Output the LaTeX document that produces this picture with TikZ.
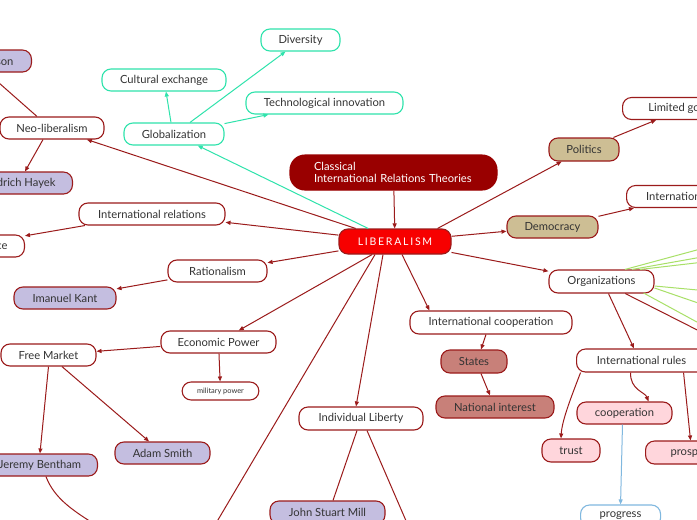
\documentclass[tikz,border=0pt]{standalone}
\usepackage{fontspec}
\setmainfont{Lato}
\usetikzlibrary{arrows.meta,positioning}
\definecolor{wine}{HTML}{9B1B1B}
\definecolor{deepred}{HTML}{990000}
\definecolor{brightred}{HTML}{F70000}
\definecolor{sand}{HTML}{CDBE94}
\definecolor{lilac}{HTML}{C4BEE0}
\definecolor{rosy}{HTML}{C88079}
\definecolor{blush}{HTML}{FFD6DC}
\definecolor{aqua}{HTML}{2FE3AC}
\definecolor{leaf}{HTML}{A8E067}
\definecolor{sky}{HTML}{80B8DF}
\definecolor{ink}{HTML}{333333}

\tikzset{
  box/.style={draw=wine,line width=1.1pt,rounded corners=9pt,fill=white,text=ink,
    font=\fontsize{11.2}{13}\selectfont,minimum height=22pt,inner xsep=15pt,inner ysep=2pt},
  person/.style={box,fill=lilac},
  arr/.style={wine,line width=1pt,-{Triangle[length=5pt,width=4pt]}},
  line/.style={wine,line width=1pt},
  glink/.style={aqua,line width=1pt,-{Triangle[length=5pt,width=4pt]}},
}

\begin{document}
\begin{tikzpicture}[x=1pt,y=-1pt]
  \clip (0,0) rectangle (697,520);
  \fill[white] (0,0) rectangle (697,520);

  % centre
  \node[box,fill=brightred,text=white,minimum width=112pt,minimum height=25pt,
    font=\fontsize{10.5}{12}\selectfont] (lib) at (395,241.5) {L\,I\,B\,E\,R\,A\,L\,I\,S\,M};
  \node[box,fill=deepred,draw=deepred,text=white,rounded corners=15pt,minimum width=207pt,
    minimum height=35pt,text width=159pt,align=left,inner xsep=0pt,
    font=\fontsize{11.2}{12.5}\selectfont] (classic) at (393.5,172.5)
    {Classical\\International Relations Theories};

  % right branch
  \node[box,fill=sand,minimum width=70pt,minimum height=23pt] (pol) at (584,149.5) {Politics};
  \node[box,anchor=west,minimum width=150pt,inner xsep=18pt] (limgov) at (622,108.5) {Limited government};
  \node[box,fill=sand,minimum width=91pt] (demo) at (552.5,227) {Democracy};
  \node[box,anchor=west,minimum width=160pt,inner xsep=18pt] (intinst) at (626,196.5) {International institutions};
  \node[box,minimum width=105pt,minimum height=23pt] (org) at (601.5,281.5) {Organizations};
  \node[box,anchor=west,minimum width=130pt,minimum height=23pt] (rules) at (576,360.5) {International rules};
  \node[box,fill=blush,minimum width=95pt] (coop) at (624.5,413) {cooperation};
  \node[box,fill=blush,minimum width=58pt,minimum height=23pt] (trust) at (571,450.5) {trust};
  \node[box,fill=blush,anchor=west,minimum width=100pt,minimum height=23pt] (prosp) at (645,452.5) {prosperity};
  \node[box,draw=sky,anchor=west,minimum width=80pt] (progress) at (580,516) {progress};

  % lower branch
  \node[box,minimum width=162pt,minimum height=23pt] (intcoop) at (491,322.5) {International cooperation};
  \node[box,fill=rosy,minimum width=66pt,minimum height=23pt] (states) at (474,361.5) {States};
  \node[box,fill=rosy,minimum width=118pt] (natint) at (495,407) {National interest};
  \node[box,minimum width=124pt,minimum height=23pt] (indlib) at (361,418.5) {Individual Liberty};
  \node[person,minimum width=115pt,minimum height=23pt] (mill) at (327.5,512.5) {John Stuart Mill};

  % left branch
  \node[box,minimum width=115pt] (econ) at (218.5,342) {Economic Power};
  \node[box,minimum width=75pt,minimum height=18pt,font=\fontsize{7.4}{8}\selectfont] (mil) at (220.5,391) {military power};
  \node[box,minimum width=95pt] (free) at (48.5,355) {Free Market};
  \node[person,minimum width=95pt] (smith) at (162.5,453) {Adam Smith};
  \node[person,anchor=east,minimum width=115pt] (bentham) at (98,465) {Jeremy Bentham};
  \node[box,minimum width=99pt] (rat) at (217.5,271) {Rationalism};
  \node[person,minimum width=102pt] (kant) at (65,298) {Imanuel Kant};
  \node[box,minimum width=146pt] (intrel) at (152,214) {International relations};
  \node[box,anchor=east,inner xsep=17pt] (peace) at (25,246) {Interdependence};
  \node[box,minimum width=104pt] (neo) at (52,128) {Neo-liberalism};
  \node[person,anchor=east,inner xsep=17pt] (hayek) at (73,183) {Friedrich Hayek};
  \node[person,anchor=east,inner xsep=18pt] (wilson) at (32,61) {Woodrow Wilson};

  % globalization
  \node[box,draw=aqua,minimum width=100pt] (glob) at (174,134) {Globalization};
  \node[box,draw=aqua,minimum width=124pt] (cult) at (164,80) {Cultural exchange};
  \node[box,draw=aqua,minimum width=79pt] (div) at (300.5,40) {Diversity};
  \node[box,draw=aqua,minimum width=157pt] (tech) at (324.5,103) {Technological innovation};

  % loose ends
  \coordinate (libdown) at (212,530);
  \coordinate (orgout) at (720,341.5);
  \coordinate (libout) at (410,530);
  \coordinate (benout) at (104,530);
  \coordinate (neoout) at (-10,75);

  % links from the centre
  \draw[arr] (classic) -- (lib);
  \draw[arr] ([shift={(-14,0)}]lib.north east) -- (pol);
  \draw[arr] (lib) -- (demo);
  \draw[arr] (lib) -- (org);
  \draw[arr] ([shift={(7,0)}]lib.south) -- ([shift={(20,0)}]intcoop.north west);
  \draw[arr] ([shift={(-12,0)}]lib.south) -- ([shift={(-5,0)}]indlib.north);
  \draw[arr] (lib) -- (econ);
  \draw[line] ([shift={(-20,0)}]lib.south) -- (libdown);
  \draw[arr] (lib) -- (rat);
  \draw[arr] (lib) -- (intrel);
  \draw[arr] (lib) -- (neo);
  \draw[glink] (lib) -- (glob);

  % right side
  \draw[arr] (pol) -- ([shift={(34,0)}]limgov.south west);
  \draw[arr] (demo) -- ([shift={(8,0)}]intinst.south west);
  \draw[arr] ([shift={(7,0)}]org.south) -- ([shift={(58,0)}]rules.north west);
  \draw[line] (org) -- (orgout);
  \foreach \s/\e in {{23.5,0}/{730,241},{30.5,0}/{730,252},{38.5,0}/{730,259}}
    \draw[leaf,line width=1pt] ([shift={(\s)}]org.north) -- (\e);
  \foreach \s/\e in {{0,4.5}/{730,293},{0,6.5}/{730,314},{-11,11.5}/{730,340}}
    \draw[leaf,line width=1pt] ([shift={(\s)}]org.east) -- (\e);
  \draw[arr] ([shift={(-11,0)}]rules.south) .. controls (630,390) and (645,392) .. ([shift={(24,0)}]coop.north);
  \draw[arr] ([shift={(-61,0)}]rules.south) .. controls (572,395) and (562,420) .. ([shift={(-10,0)}]trust.north);
  \draw[arr] ([shift={(42,0)}]rules.south) -- ([shift={(-5,0)}]prosp.north);
  \draw[sky,line width=1pt,-{Triangle[length=5pt,width=4pt]}] ([shift={(-2,0)}]coop.south) -- (progress.north);

  % lower side
  \draw[arr] ([shift={(-5,0)}]intcoop.south) -- ([shift={(7,0)}]states.north);
  \draw[arr] ([shift={(7,0)}]states.south) -- ([shift={(-5,0)}]natint.north);
  \draw[line] ([shift={(-4,0)}]indlib.south) -- ([shift={(5.5,0)}]mill.north);
  \draw[line] ([shift={(6,0)}]indlib.south) -- (libout);

  % left side
  \draw[arr] (econ) -- (free);
  \draw[arr] (econ) -- (mil);
  \draw[arr] (free.south) -- (bentham.north);
  \draw[arr] (free) -- (smith);
  \draw[line] ([shift={(6,0)}]bentham.south) .. controls (55,500) and (75,512) .. (benout);
  \draw[arr] (rat) -- (kant);
  \draw[arr] (intrel) -- (peace);
  \draw[arr] ([shift={(-9,0)}]neo.south) -- ([shift={(-48,0)}]hayek.north east);
  \draw[line] ([shift={(-15,0)}]neo.north) -- (neoout);

  % globalization
  \draw[glink] ([shift={(-3,0)}]glob.north) -- ([shift={(2,0)}]cult.south);
  \draw[glink] ([shift={(16,0)}]glob.north) -- ([shift={(-15,0)}]div.south);
  \draw[glink] (glob) -- (tech);
\end{tikzpicture}
\end{document}
